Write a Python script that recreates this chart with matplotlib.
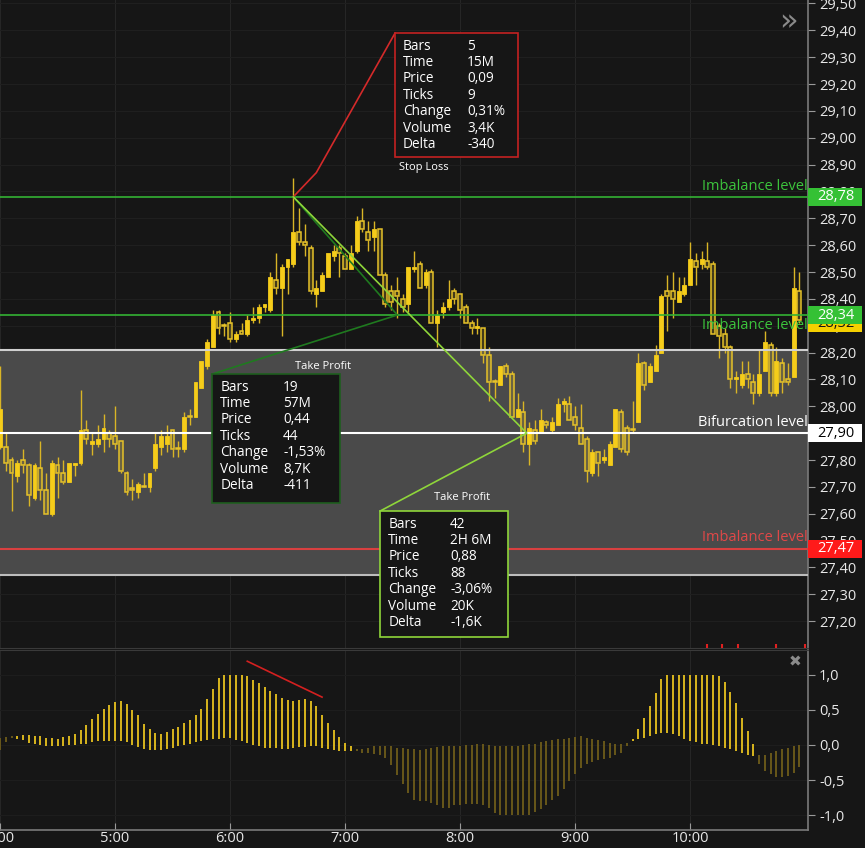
import matplotlib.pyplot as plt
from matplotlib.patches import Rectangle
from matplotlib.ticker import FuncFormatter
import matplotlib.transforms as mtransforms
import numpy as np

plt.rcParams['font.family'] = ['Open Sans', 'DejaVu Sans']

# 3-minute candles starting 4:00
opens = [27.85, 27.85, 27.80, 27.74, 27.80, 27.78, 27.66, 27.77, 27.69, 27.60,
         27.78, 27.75, 27.72, 27.78, 27.79, 27.91, 27.86, 27.86, 27.88, 27.90,
         27.89, 27.87, 27.75, 27.69, 27.68, 27.70, 27.70, 27.77, 27.85, 27.86,
         27.91, 27.84, 27.84, 27.96, 27.96, 28.07, 28.15, 28.22, 28.35, 28.30,
         28.31, 28.25, 28.28, 28.27, 28.32, 28.33, 28.37, 28.36, 28.47, 28.44,
         28.52, 28.53, 28.65, 28.61, 28.59, 28.42, 28.43, 28.48, 28.56, 28.59,
         28.56, 28.51, 28.58, 28.69, 28.65, 28.63, 28.66, 28.49, 28.43, 28.43,
         28.40, 28.38, 28.51, 28.53, 28.45, 28.50, 28.31, 28.35, 28.37, 28.43,
         28.42, 28.37, 28.31, 28.29, 28.29, 28.19, 28.09, 28.08, 28.15, 28.12,
         27.96, 27.98, 27.86, 27.91, 27.90, 27.94, 27.91, 27.93, 28.01, 28.01,
         27.96, 27.92, 27.88, 27.75, 27.83, 27.80, 27.78, 27.85, 27.98, 27.92,
         27.91, 27.94, 28.16, 28.09, 28.13, 28.20, 28.43, 28.43, 28.39, 28.42,
         28.45, 28.54, 28.53, 28.54, 28.53, 28.30, 28.27, 28.22, 28.10, 28.08,
         28.12, 28.09, 28.05, 28.13, 28.23, 28.05, 28.16, 28.10, 28.11, 28.43]
highs = [28.15, 27.90, 27.81, 27.80, 27.84, 27.79, 27.79, 27.87, 27.75, 27.80,
         27.81, 27.80, 27.79, 27.79, 28.06, 27.95, 27.90, 27.93, 27.97, 27.91,
         28.00, 27.87, 27.76, 27.73, 27.72, 27.75, 27.75, 27.90, 27.91, 27.93,
         27.91, 27.87, 27.98, 27.99, 28.09, 28.17, 28.25, 28.36, 28.36, 28.31,
         28.35, 28.28, 28.31, 28.34, 28.37, 28.38, 28.38, 28.50, 28.57, 28.53,
         28.55, 28.85, 28.74, 28.68, 28.60, 28.47, 28.50, 28.57, 28.60, 28.60,
         28.57, 28.60, 28.71, 28.74, 28.69, 28.69, 28.66, 28.50, 28.45, 28.48,
         28.42, 28.52, 28.58, 28.54, 28.51, 28.51, 28.36, 28.39, 28.47, 28.44,
         28.42, 28.38, 28.32, 28.33, 28.29, 28.22, 28.10, 28.15, 28.16, 28.13,
         28.05, 28.02, 27.94, 27.95, 27.99, 27.95, 27.96, 28.03, 28.03, 28.04,
         28.00, 28.01, 27.89, 27.84, 27.83, 27.84, 27.87, 27.99, 27.99, 27.93,
         28.02, 28.20, 28.17, 28.16, 28.23, 28.42, 28.49, 28.50, 28.48, 28.48,
         28.61, 28.57, 28.58, 28.61, 28.54, 28.31, 28.29, 28.23, 28.13, 28.17,
         28.17, 28.12, 28.21, 28.28, 28.24, 28.22, 28.18, 28.16, 28.52, 28.50]
lows = [27.84, 27.76, 27.61, 27.72, 27.75, 27.63, 27.65, 27.65, 27.60, 27.59,
        27.66, 27.71, 27.72, 27.74, 27.78, 27.86, 27.82, 27.85, 27.83, 27.85,
        27.84, 27.75, 27.67, 27.65, 27.66, 27.70, 27.68, 27.76, 27.82, 27.83,
        27.81, 27.81, 27.83, 27.93, 27.96, 28.07, 28.14, 28.22, 28.27, 28.26,
        28.24, 28.24, 28.27, 28.26, 28.31, 28.31, 28.35, 28.35, 28.42, 28.26,
        28.42, 28.52, 28.60, 28.56, 28.42, 28.37, 28.43, 28.48, 28.54, 28.48,
        28.51, 28.51, 28.57, 28.65, 28.58, 28.58, 28.49, 28.37, 28.36, 28.33,
        28.35, 28.35, 28.50, 28.44, 28.44, 28.31, 28.22, 28.33, 28.36, 28.38,
        28.33, 28.31, 28.27, 28.27, 28.16, 28.02, 28.03, 28.08, 28.11, 27.96,
        27.96, 27.83, 27.78, 27.86, 27.90, 27.92, 27.90, 27.93, 27.98, 27.95,
        27.91, 27.86, 27.72, 27.74, 27.74, 27.79, 27.78, 27.85, 27.83, 27.82,
        27.90, 27.94, 28.06, 28.09, 28.13, 28.20, 28.28, 28.33, 28.39, 28.41,
        28.45, 28.45, 28.51, 28.51, 28.27, 28.18, 28.20, 28.07, 28.05, 28.07,
        28.07, 28.01, 28.04, 28.13, 28.04, 28.04, 28.05, 28.08, 28.11, 28.31]
closes = [27.99, 27.79, 27.75, 27.79, 27.78, 27.67, 27.78, 27.69, 27.60, 27.79,
          27.75, 27.72, 27.79, 27.79, 27.91, 27.88, 27.87, 27.88, 27.92, 27.88,
          27.86, 27.76, 27.68, 27.69, 27.71, 27.70, 27.75, 27.86, 27.89, 27.89,
          27.84, 27.84, 27.96, 27.96, 28.09, 28.17, 28.24, 28.34, 28.29, 28.30,
          28.25, 28.27, 28.27, 28.32, 28.33, 28.37, 28.38, 28.48, 28.44, 28.52,
          28.55, 28.65, 28.61, 28.60, 28.43, 28.44, 28.49, 28.57, 28.58, 28.57,
          28.51, 28.57, 28.69, 28.66, 28.62, 28.66, 28.49, 28.38, 28.39, 28.41,
          28.37, 28.52, 28.52, 28.44, 28.50, 28.31, 28.34, 28.37, 28.40, 28.40,
          28.36, 28.31, 28.29, 28.30, 28.19, 28.09, 28.09, 28.15, 28.12, 27.96,
          27.99, 27.86, 27.92, 27.87, 27.95, 27.93, 27.94, 28.01, 28.02, 27.95,
          27.93, 27.86, 27.76, 27.83, 27.79, 27.81, 27.86, 27.99, 27.84, 27.83,
          27.91, 28.16, 28.08, 28.15, 28.19, 28.41, 28.41, 28.40, 28.43, 28.45,
          28.55, 28.52, 28.55, 28.52, 28.27, 28.26, 28.22, 28.10, 28.11, 28.12,
          28.10, 28.05, 28.12, 28.24, 28.05, 28.17, 28.09, 28.09, 28.44, 28.32]

# oscillator: each bar spans between two lines
osc_high = [0.10, 0.11, 0.13, 0.13, 0.14, 0.14, 0.12, 0.12, 0.10, 0.10,
            0.09, 0.11, 0.13, 0.16, 0.21, 0.29, 0.37, 0.44, 0.51, 0.57,
            0.61, 0.62, 0.58, 0.50, 0.42, 0.30, 0.22, 0.17, 0.16, 0.19,
            0.22, 0.26, 0.31, 0.36, 0.43, 0.51, 0.65, 0.80, 0.95, 0.99,
            1.00, 1.00, 1.00, 0.98, 0.92, 0.88, 0.82, 0.77, 0.72, 0.67,
            0.64, 0.62, 0.64, 0.65, 0.63, 0.55, 0.43, 0.31, 0.21, 0.11,
            0.03, -0.02, -0.06, -0.06, -0.04, -0.02, -0.01, -0.01, -0.01, -0.04,
            -0.05, -0.06, -0.06, -0.07, -0.06, -0.04, -0.03, -0.02, -0.01, -0.01,
            -0.01, 0.00, 0.00, 0.01, 0.01, 0.00, -0.02, -0.02, -0.02, -0.01,
            -0.01, 0.00, 0.01, 0.02, 0.04, 0.06, 0.07, 0.08, 0.09, 0.10,
            0.11, 0.12, 0.10, 0.09, 0.07, 0.05, 0.03, 0.02, 0.01, 0.03,
            0.09, 0.22, 0.39, 0.55, 0.74, 0.94, 1.00, 1.00, 1.00, 1.00,
            1.00, 1.00, 1.00, 1.00, 1.00, 0.98, 0.89, 0.75, 0.59, 0.39,
            0.20, 0.02, -0.15, -0.15, -0.12, -0.08, -0.06, -0.04, -0.02, 0.00]
osc_low = [-0.07, 0.04, 0.10, 0.08, 0.07, 0.03, 0.02, 0.00, -0.02, -0.02,
           -0.02, -0.02, 0.00, 0.00, 0.01, 0.02, 0.04, 0.06, 0.06, 0.06,
           0.06, 0.06, 0.04, 0.00, -0.03, -0.06, -0.07, -0.07, -0.07, -0.06,
           -0.05, -0.02, 0.00, 0.02, 0.04, 0.06, 0.07, 0.08, 0.09, 0.10,
           0.10, 0.07, 0.06, 0.03, 0.00, -0.02, -0.04, -0.05, -0.05, -0.06,
           -0.06, -0.04, -0.03, -0.03, -0.02, -0.02, -0.04, -0.06, -0.07, -0.09,
           -0.09, -0.09, -0.08, -0.11, -0.11, -0.13, -0.15, -0.18, -0.29, -0.43,
           -0.56, -0.69, -0.78, -0.80, -0.80, -0.82, -0.86, -0.90, -0.89, -0.86,
           -0.85, -0.84, -0.84, -0.84, -0.86, -0.89, -0.97, -1.00, -1.00, -1.00,
           -1.00, -1.00, -0.99, -0.96, -0.91, -0.86, -0.79, -0.72, -0.63, -0.51,
           -0.42, -0.33, -0.27, -0.24, -0.22, -0.20, -0.18, -0.15, -0.11, -0.02,
           0.06, 0.08, 0.10, 0.13, 0.15, 0.17, 0.17, 0.15, 0.12, 0.08,
           0.06, 0.04, 0.02, 0.01, 0.00, -0.02, -0.04, -0.06, -0.08, -0.12,
           -0.15, -0.16, -0.27, -0.37, -0.42, -0.45, -0.46, -0.44, -0.40, -0.32]
bright_ranges = [(3, 61), (110, 131)]

hour_labels = ['4:00', '5:00', '6:00', '7:00', '8:00', '9:00', '10:00']
bars_per_hour = 20

zone_top, zone_bottom = 28.21, 27.37
green_levels = [28.78, 28.34]
bifurcation = 27.90
red_level = 27.47
last_price = 28.32
signal_bars = [123, 125.5, 128.3, 135, 140]

row_names = ['Bars', 'Time', 'Price', 'Ticks', 'Change', 'Volume', 'Delta']
sl_values = ['5', '15M', '0,09', '9', '0,31%', '3,4K', '-340']
tp1_values = ['19', '57M', '0,44', '44', '-1,53%', '8,7K', '-411']
tp2_values = ['42', '2H 6M', '0,88', '88', '-3,06%', '20K', '-1,6K']

BG = '#161616'
YELLOW = '#f5cc1a'
WICK = '#d9b526'
TXT = '#e8e8e8'

fig = plt.figure(figsize=(8.65, 8.48), dpi=100, facecolor=BG)
ax = fig.add_axes([0, 1 - 648 / 848, 808 / 865, 648 / 848], facecolor=BG)
ax2 = fig.add_axes([0, 1 - 830 / 848, 808 / 865, 180 / 848], facecolor=BG, sharex=ax)

idx = np.arange(len(closes))
o = np.array(opens); c = np.array(closes)
h = np.array(highs); l = np.array(lows)
top = np.maximum(o, c); bot = np.minimum(o, c)
up = c > o

# grid
for k in range(len(hour_labels)):
    ax.axvline(k * bars_per_hour, color='#262626', lw=0.8, zorder=0.2)
    ax2.axvline(k * bars_per_hour, color='#262626', lw=0.8, zorder=0.2)
price_ticks = np.round(np.arange(272, 296) / 10, 2)
for p in price_ticks:
    ax.axhline(p, color='#1f1f1f', lw=0.8, zorder=0.2)
for v in [-1, -0.5, 0, 0.5, 1]:
    ax2.axhline(v, color='#1d1d1d', lw=0.8, zorder=0.2)

# zone
ax.axhspan(zone_bottom, zone_top, color='#4a4a4a', zorder=0.5, lw=0)

# candles
ax.vlines(idx, top, h, color=WICK, lw=1.0, zorder=2)
ax.vlines(idx, l, bot, color=WICK, lw=1.0, zorder=2)
body = np.maximum(top - bot, 0.004)
ax.bar(idx[up], body[up], bottom=bot[up], width=0.68, color=YELLOW,
       edgecolor=YELLOW, lw=0.6, zorder=3)
ax.bar(idx[~up], body[~up], bottom=bot[~up], width=0.68,
       facecolor=(0.9, 0.76, 0.16, 0.22), edgecolor='#e6c229', lw=1.1, zorder=3)

# levels
ax.axhline(zone_top, color='#d0d0d0', lw=1.5, zorder=4)
ax.axhline(zone_bottom, color='#bdbdbd', lw=1.5, zorder=4)
ax.axhline(bifurcation, color='white', lw=1.5, zorder=4)
for g in green_levels:
    ax.axhline(g, color='#34b233', lw=1.2, zorder=4)
ax.axhline(red_level, color='#d94040', lw=1.5, zorder=4)

xr = len(closes) + 0.4
ax.text(xr, 28.79, 'Imbalance level', color='#3cc43c', fontsize=10.5, ha='right', va='bottom', zorder=5)
ax.text(xr, 28.30, 'Imbalance level', color='#3cc43c', fontsize=10.5, ha='right', va='center', zorder=5)
ax.text(xr, 27.94, 'Bifurcation level', color='white', fontsize=10.5, ha='right', va='center', zorder=5)
ax.text(xr, 27.51, 'Imbalance level', color='#e04848', fontsize=10.5, ha='right', va='center', zorder=5)

# price tags on the axis
tr = mtransforms.blended_transform_factory(ax.transAxes, ax.transData)
def tag(price, label, fc, tc, z=10, half=0.034):
    ax.add_patch(Rectangle((1.0, price - half), 54 / 808, 2 * half, transform=tr,
                           facecolor=fc, edgecolor='none', clip_on=False, zorder=z))
    ax.text(1.0 + 28 / 808, price, label, transform=tr, color=tc, fontsize=10.5,
            ha='center', va='center', clip_on=False, zorder=z + 0.5)

tag(last_price - 0.01, '28,32', '#f5d000', '#161616', z=9)
tag(green_levels[0], '28,78', '#35c135', 'white')
tag(green_levels[1], '28,34', '#35c135', 'white')
tag(bifurcation, '27,90', 'white', 'black')
tag(red_level, '27,47', '#ff1a1a', 'white')

# measurement tools
start = (51, 28.78)
ax.plot([start[0], 55, 68.7], [start[1], 28.87, 29.39], color='#d42a2a', lw=1.2, zorder=5)
ax.plot([start[0], 69.1, 36.9], [start[1], 28.34, 28.12], color='#1f7a1f', lw=1.2, zorder=5)
ax.plot([start[0], 91.6, 66.1], [start[1], 27.90, 27.61], color='#8fd63a', lw=1.2, zorder=5)

def info_box(x0, x1, y_top, y_bot, edge, values, col2):
    ax.add_patch(Rectangle((x0, y_bot), x1 - x0, y_top - y_bot, facecolor=BG,
                           edgecolor=edge, lw=1.2, zorder=6))
    for k, (name, val) in enumerate(zip(row_names, values)):
        ax.annotate(name, xy=(x0, y_top), xytext=(8, -13 - 16.4 * k), textcoords='offset pixels',
                    color='white', fontsize=9.8, va='center', zorder=7)
        ax.annotate(val, xy=(x0, y_top), xytext=(col2, -13 - 16.4 * k), textcoords='offset pixels',
                    color='white', fontsize=9.8, va='center', zorder=7)

info_box(68.7, 90.1, 29.39, 28.93, '#c42222', sl_values, 72)
info_box(36.9, 59.1, 28.12, 27.64, '#1e5e1e', tp1_values, 71)
info_box(66.1, 88.3, 27.61, 27.14, '#8fd63a', tp2_values, 70)
ax.text(73.7, 28.89, 'Stop Loss', color='white', fontsize=8, ha='center', va='center', zorder=5)
ax.text(56.2, 28.15, 'Take Profit', color='white', fontsize=8, ha='center', va='center', zorder=5)
ax.text(80.3, 27.66, 'Take Profit', color='white', fontsize=8, ha='center', va='center', zorder=5)

ax.vlines(signal_bars, 27.10, 27.115, color='#e02020', lw=1.5, zorder=5)

# oscillator
colors = ['#6e5c1a'] * len(osc_high)
for a, b in bright_ranges:
    for i in range(a, b + 1):
        colors[i] = '#e8c21e'
ax2.vlines(idx, osc_low, osc_high, colors=colors, lw=1.3, zorder=2)
ax2.plot([43, 56], [1.19, 0.68], color='#d42020', lw=1.2, zorder=3)

# axes styling
ax.set_xlim(0, 140.5)
ax.set_ylim(27.10, 29.513)
ax2.set_ylim(-1.21, 1.35)

ax.yaxis.tick_right()
ax.set_yticks(price_ticks)
ax.yaxis.set_major_formatter(FuncFormatter(lambda v, p: f"{v:.2f}".replace('.', ',')))
ax.tick_params(axis='y', colors='#9a9a9a', labelcolor=TXT, labelsize=10.5, length=5, pad=3)
ax.tick_params(axis='x', bottom=False, labelbottom=False)

ax2.yaxis.tick_right()
ax2.set_yticks([-1, -0.5, 0, 0.5, 1])
ax2.yaxis.set_major_formatter(FuncFormatter(lambda v, p: f"{v:.1f}".replace('.', ',')))
ax2.tick_params(axis='y', colors='#9a9a9a', labelcolor=TXT, labelsize=10.5, length=5, pad=3)
ax2.set_xticks([k * bars_per_hour for k in range(len(hour_labels))])
ax2.set_xticklabels(hour_labels)
ax2.tick_params(axis='x', colors='#9a9a9a', labelcolor=TXT, labelsize=10.5, length=5,
                direction='in', pad=1)

for a_ in (ax, ax2):
    a_.spines['left'].set_visible(False)
    a_.spines['right'].set_color('#7a7a7a')
    a_.spines['right'].set_linewidth(1.2)
ax.spines['top'].set_visible(False)
ax.spines['bottom'].set_color('#3a3a3a')
ax2.spines['top'].set_color('#3a3a3a')
ax2.spines['bottom'].set_color('#7a7a7a')
ax2.spines['bottom'].set_linewidth(1.2)

fig.text(788 / 865, 1 - 22 / 848, '»', color='#8a8a8a', fontsize=22, ha='center', va='center',
         family='DejaVu Sans')
fig.text(795 / 865, 1 - 662 / 848, '✖', color='#8a8a8a', fontsize=11, ha='center', va='center',
         family='DejaVu Sans')

fig.savefig('out.png', dpi=100, facecolor=BG)
